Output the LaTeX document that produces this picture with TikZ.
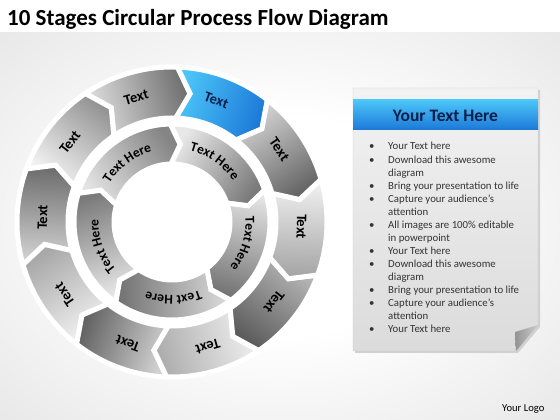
\documentclass[tikz,border=0pt]{standalone}
\usepackage{fontspec}
\setmainfont{Carlito}
\usetikzlibrary{calc,decorations.text,positioning}

\definecolor{blueL}{HTML}{4CC6F8}
\definecolor{blueD}{HTML}{1C78D8}
\definecolor{navy}{HTML}{0B1F4B}
\newcommand{\intext}{\bfseries\fontsize{13.5}{15}\selectfont}
\pgfdeclareradialshading{backglow}{\pgfpoint{0bp}{0bp}}{color(0bp)=(white);
  color(14bp)=(white); color(38bp)=(black!10); color(50bp)=(black!17)}

\tikzset{
  ring/.style={draw=white, line width=5pt},
  outtext/.style={font=\bfseries\fontsize{14.5}{16}\selectfont},
}

\begin{document}
\begin{tikzpicture}[x=1pt,y=1pt]
  \useasboundingbox (0,0) rectangle (560,420);
  \shade[shading=backglow] (0,0) rectangle (560,388);
  \fill[white] (0,388) rectangle (560,420);
  \node[anchor=base west, inner sep=0, font=\bfseries\fontsize{23}{25}\selectfont]
    (title) at (7,394) {10 Stages Circular Process Flow Diagram};

  \coordinate (O) at (172,198);
  \fill[white] (O) circle[radius=104];
  \begin{scope}[shift={(O)}]
    \foreach \a/\dk/\lt/\tc [count=\i] in {70/blueD/blueL/navy,
      106/black!56/black!12/black, 142/black!42/black!3/black,
      178/black!58/black!16/black, 214/black!34/black!5/black,
      250/black!62/black!18/black, 286/black!32/black!6/black,
      322/black!64/black!28/black, 358/black!36/black!5/black,
      34/black!60/black!16/black}{
      \path[ring, top color=\lt, bottom color=\dk, shading angle=\a]
        (\a+18:155) arc[start angle=\a+18, end angle=\a-18, radius=155]
        -- (\a-24:129.5) -- (\a-18:104)
        arc[start angle=\a-18, end angle=\a+18, radius=104]
        -- (\a+12:129.5) -- cycle;
      \node[outtext, text=\tc, rotate=\a-90] (o\i) at (\a:129.5) {Text};
    }
    \foreach \a/\dk/\lt [count=\i] in {55/black!52/black!9,
      127/black!48/black!11, 199/black!52/black!9,
      271/black!56/black!13, 343/black!54/black!11}{
      \path[ring, top color=\lt, bottom color=\dk, shading angle=\a]
        (\a+36:98) arc[start angle=\a+36, end angle=\a-36, radius=98]
        -- (\a-43:78) -- (\a-36:58)
        arc[start angle=\a-36, end angle=\a+36, radius=58]
        -- (\a+29:78) -- cycle;
      \path[decorate, decoration={text along path, text align=center,
          text={|\intext|Text Here}}]
        (\a+32:73.5) arc[start angle=\a+32, end angle=\a-32, radius=73.5];
    }
  \end{scope}

  \fill[black!18] (355,330) -- (540,330) -- (540,93) -- (518,67) -- (355,67) -- cycle;
  \path[top color=black!5, bottom color=black!14, draw=black!20]
    (353,332) -- (538,332) -- (538,95) -- (516,69) -- (353,69) -- cycle;
  \path[left color=black!42, right color=black!20] (538,95) -- (515,88) -- (516,69) -- cycle;
  \path[top color=blueL, bottom color=blueD] (353,320) rectangle (538,290);
  \node[font=\bfseries\fontsize{17.5}{19}\selectfont, text=navy] (head) at (445.5,304) {Your Text Here};
  \node[anchor=base west, inner sep=0, text=black!80,
    font=\fontsize{10.8}{13.07}\selectfont] (list) at (369,270) {%
    \begin{tabular}[t]{@{}p{19pt}@{}l@{}}
      \textbullet & Your Text here\\
      \textbullet & Download this awesome\\
                  & diagram\\
      \textbullet & Bring your presentation to life\\
      \textbullet & Capture your audience’s\\
                  & attention\\
      \textbullet & All images are 100\% editable\\
                  & in powerpoint\\
      \textbullet & Your Text here\\
      \textbullet & Download this awesome\\
                  & diagram\\
      \textbullet & Bring your presentation to life\\
      \textbullet & Capture your audience’s\\
                  & attention\\
      \textbullet & Your Text here
    \end{tabular}};
  \node[anchor=base west, inner sep=0, font=\fontsize{10.6}{12}\selectfont]
    (logo) at (502,8) {Your Logo};
\end{tikzpicture}
\end{document}
